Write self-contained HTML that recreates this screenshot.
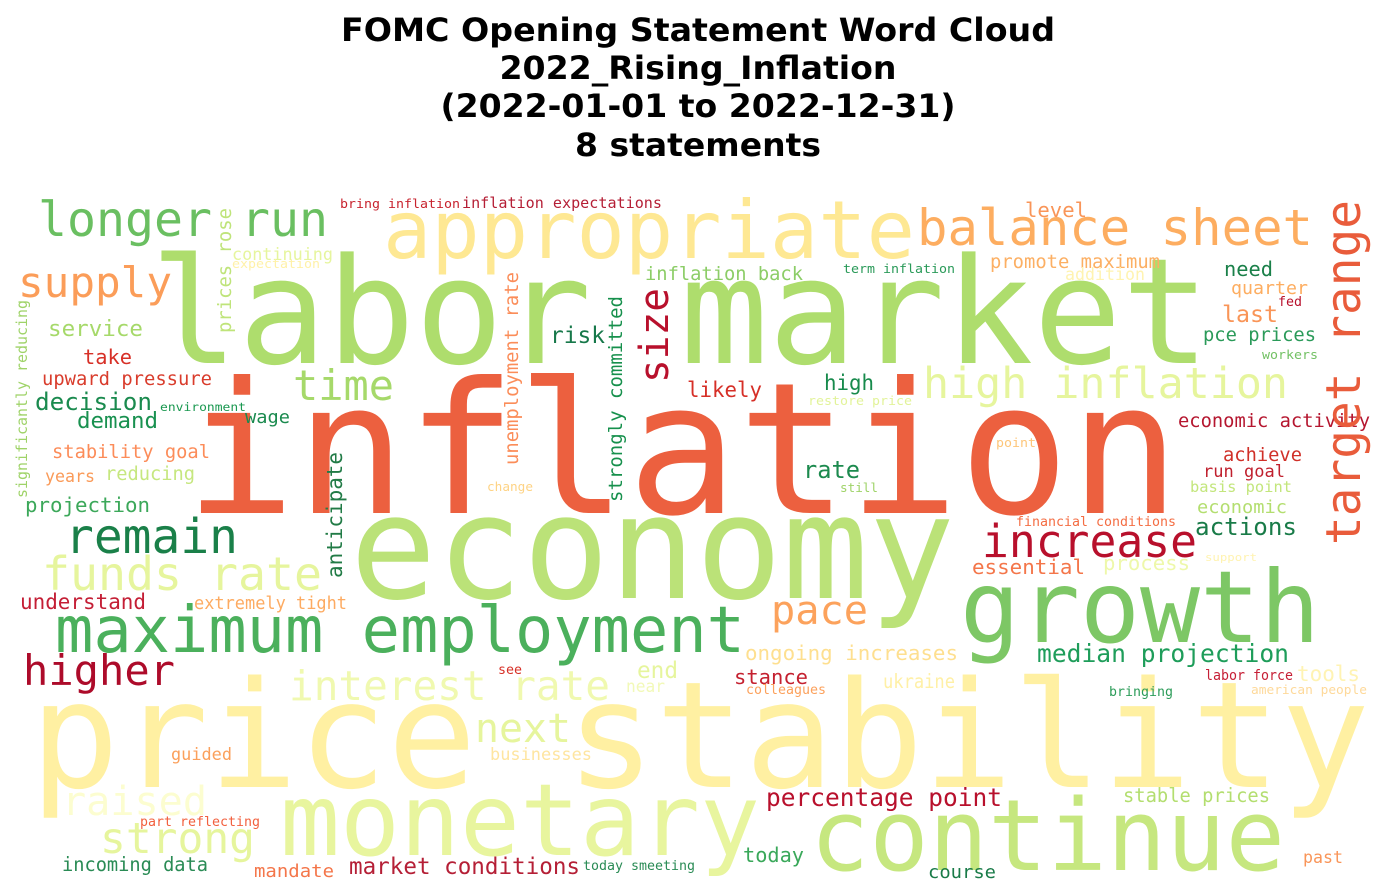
<!DOCTYPE html>
<html><head><meta charset="utf-8"><style>
html,body{margin:0;padding:0;background:#fff;}
svg{display:block;}
.w{font-family:"DejaVu Sans Mono","Liberation Mono",monospace;}
.t{font-family:"DejaVu Sans","Liberation Sans",sans-serif;font-weight:bold;font-size:32px;fill:#000;}
</style></head><body>
<svg width="1396" height="896" viewBox="0 0 1396 896">
<g text-anchor="middle">
<text class="t" x="698" y="41" textLength="714" lengthAdjust="spacingAndGlyphs">FOMC Opening Statement Word Cloud</text>
<text class="t" x="698" y="79" textLength="397" lengthAdjust="spacingAndGlyphs">2022_Rising_Inflation</text>
<text class="t" x="698" y="117" textLength="515" lengthAdjust="spacingAndGlyphs">(2022-01-01 to 2022-12-31)</text>
<text class="t" x="698" y="156" textLength="246" lengthAdjust="spacingAndGlyphs">8 statements</text>
</g>
<g id="cloud" class="w"></g>
</svg>
<script>
// word, left x, baseline y, font size, width, color, vertical?
const words = [
["price stability",30,787,148,1340,"#fff0a2",0],
["labor market",150,363,147,1060,"#aedd6d",0],
["inflation",185,513,183,995,"#ec603f",0],
["economy",350,598,144,605,"#bbe278",0],
["monetary",280,855,100,480,"#e8f59e",0],
["continue",810,870,99,475,"#c6e77f",0],
["growth",960,642,100,360,"#7dc765",0],
["appropriate",383,258,80,532,"#fee893",0],
["balance sheet",917,245,50,396,"#fdad60",0],
["longer run",38,236,48,290,"#6abf61",0],
["bring inflation",340,208,12,120,"#c8232e",0],
["inflation expectations",462,208,15,200,"#b51f36",0],
["level",1025,217,20,62,"#f99558",0],
["supply",18,297,42,154,"#fb9d59",0],
["continuing",232,260,17,101,"#e6f59d",0],
["expectation",232,268,12,88,"#fff1a8",0],
["service",48,336,22,95,"#a6d96a",0],
["take",83,364,20,49,"#d73027",0],
["upward pressure",42,385,19,170,"#d93c2c",0],
["decision",35,410,24,117,"#1a8a4e",0],
["environment",160,411,11.5,86,"#1a9850",0],
["demand",77,428,22,81,"#199150",0],
["wage",245,423,18,45,"#1a8a4e",0],
["stability goal",52,458,19,158,"#fc8c59",0],
["years",45,482,17,50,"#fa9a58",0],
["reducing",105,480,18.7,90,"#c6e77f",0],
["projection",25,512,20.7,125,"#3ca85a",0],
["remain",65,553,48,173,"#1a8049",0],
["time",293,400,42,101,"#a6d96a",0],
["risk",550,343,23,55,"#17784a",0],
["inflation back",645,280,19,158,"#8ccd67",0],
["term inflation",843,273,12.4,112,"#2a9a59",0],
["promote maximum",990,268,18.8,170,"#fcaf63",0],
["addition",1065,280,16.6,80,"#fff3b0",0],
["need",1224,276,20,49,"#1a8049",0],
["quarter",1231,294,18,77,"#fdad60",0],
["fed",1278,306,13,24,"#b8102c",0],
["last",1222,322,23,56,"#f99558",0],
["pce prices",1203,341,18.8,113,"#2a9a59",0],
["workers",1262,359,12,56,"#72c164",0],
["high inflation",923,398,43,365,"#e6f59d",0],
["high",824,390,21,50,"#178a4c",0],
["likely",687,397,21,75,"#d62f27",0],
["restore price",808,405,12.4,104,"#e2f39a",0],
["economic activity",1178,427,19,192,"#b5162f",0],
["point",996,447,12,40,"#fdc67a",0],
["achieve",1223,461,19,79,"#d03028",0],
["run goal",1203,477,17,82,"#c0202e",0],
["basis point",1190,492,15.5,102,"#c3e67c",0],
["economic",1197,513,17.8,90,"#b3de6f",0],
["actions",1195,535,24,102,"#197b48",0],
["rate",803,478,24,57,"#1c8a4e",0],
["still",840,492,12.6,38,"#9fd368",0],
["change",487,491,12.7,46,"#fed385",0],
["financial conditions",1016,526,13.3,160,"#f46d43",0],
["increase",982,557,45,215,"#b8102c",0],
["support",1205,561,11,52,"#fff3b0",0],
["essential",972,574,20.8,113,"#f4764a",0],
["process",1103,570,20,87,"#eef8aa",0],
["funds rate",42,590,46,280,"#e6f59d",0],
["understand",20,609,21,126,"#c41e35",0],
["extremely tight",194,609,17.8,153,"#fdab62",0],
["maximum employment",55,652,64,690,"#4bb05c",0],
["pace",771,624,40,97,"#fca25c",0],
["ongoing increases",745,660,20.8,213,"#fedf8f",0],
["median projection",1037,662,24.6,252,"#1e9d5a",0],
["higher",23,685,42,152,"#ad0b2a",0],
["interest rate",289,700,41,321,"#f0f9b0",0],
["end",637,678,23,41,"#e6f59d",0],
["see",498,674,13,24,"#d73027",0],
["near",626,692,17,39,"#f2f9b8",0],
["stance",734,684,20.5,74,"#c4202f",0],
["colleagues",746,694,13.3,80,"#fca15c",0],
["ukraine",883,688,19.9,72,"#fff0a6",0],
["labor force",1205,680,14.6,88,"#c61f36",0],
["tools",1297,681,21,63,"#fff3b3",0],
["bringing",1109,696,13.3,64,"#2c9c59",0],
["american people",1251,694,12.8,116,"#fed99a",0],
["next",475,742,40,96,"#e6f59d",0],
["guided",171,760,17,61,"#fba05b",0],
["businesses",490,760,17,102,"#fee5a0",0],
["raised",62,815,40,145,"#fcfdd0",0],
["percentage point",766,806,24.5,236,"#b8102c",0],
["stable prices",1123,802,19.5,147,"#b3de6f",0],
["part reflecting",140,826,13.3,120,"#f2603f",0],
["strong",100,853,43,155,"#e6f59d",0],
["incoming data",62,871,19.5,146,"#2a8b55",0],
["mandate",254,877,18,80,"#f4764a",0],
["market conditions",349,874,23,231,"#b51f36",0],
["today smeeting",583,870,13.3,112,"#2a8b55",0],
["today",743,862,20.5,61,"#3aa85a",0],
["course",928,878,18,68,"#197b48",0],
["past",1303,863,17,40,"#f99558",0],
// vertical words: baseline x, bottom y, size, length
["target range",1360,545,48,345,"#e95c3b",1],
["prices rose",231,333,19,125,"#bfe47a",1],
["significantly reducing",27,498,15,198,"#9fd368",1],
["unemployment rate",518,465,19,193,"#fb8d59",1],
["strongly committed",622,502,19,206,"#16904c",1],
["size",668,383,40,95,"#b8102c",1],
["anticipate",342,578,21,126,"#217b46",1]
];
const g = document.getElementById('cloud');
const NS = 'http://www.w3.org/2000/svg';
for (const w of words) {
  const t = document.createElementNS(NS, 'text');
  t.textContent = w[0];
  t.setAttribute('font-size', w[3]);
  t.setAttribute('fill', w[5]);
  t.setAttribute('textLength', w[4]);
  t.setAttribute('lengthAdjust', 'spacingAndGlyphs');
  if (w[6]) {
    t.setAttribute('x', 0);
    t.setAttribute('y', 0);
    t.setAttribute('transform', 'translate(' + w[1] + ',' + w[2] + ') rotate(-90)');
  } else {
    t.setAttribute('x', w[1]);
    t.setAttribute('y', w[2]);
  }
  
  
  g.appendChild(t);
}
</script>
</body></html>
